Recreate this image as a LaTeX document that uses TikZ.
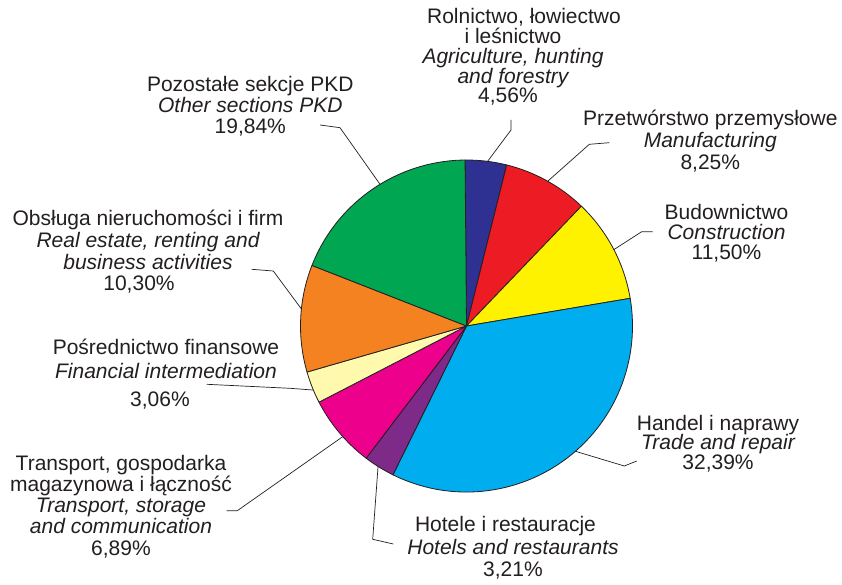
\documentclass[tikz,border=0pt]{standalone}
\usepackage{fontspec}
\setmainfont{Liberation Sans}
\definecolor{txt}{HTML}{231F20}
\definecolor{cgreen}{HTML}{00A651}
\definecolor{cblue}{HTML}{2E3192}
\definecolor{cred}{HTML}{ED1C24}
\definecolor{cyellow}{HTML}{FFF200}
\definecolor{ccyan}{HTML}{00AEEF}
\definecolor{cpurple}{HTML}{7D2A88}
\definecolor{cmagenta}{HTML}{EC008C}
\definecolor{clight}{HTML}{FFF9AE}
\definecolor{corange}{HTML}{F58220}
\newcommand\labelstack[2][20.5pt]{\vtop{\baselineskip=#1\lineskiplimit=-100pt\halign{\hfil##\hfil\cr#2\crcr}}}
\tikzset{
  slice/.style={draw=txt,line width=0.8pt,line join=round},
  leader/.style={draw=txt,line width=0.7pt},
  lab/.style={inner sep=0pt,anchor=base,text=txt,font=\fontsize{21pt}{20.5pt}\selectfont}
}
\begin{document}
\begin{tikzpicture}[x=1pt,y=1pt]
\useasboundingbox (0,0) rectangle (842,584);
\fill[white] (0,0) rectangle (842,584);
\coordinate (c) at (466.5,258);
\def\R{166pt}
% slices
\filldraw[slice,fill=cblue] (c) -- ++(76:\R) arc[start angle=76,end angle=90.5,radius=\R] -- cycle;
\filldraw[slice,fill=cred] (c) -- ++(46.2:\R) arc[start angle=46.2,end angle=76,radius=\R] -- cycle;
\filldraw[slice,fill=cyellow] (c) -- ++(9.6:\R) arc[start angle=9.6,end angle=46.2,radius=\R] -- cycle;
\filldraw[slice,fill=ccyan] (c) -- ++(-116.3:\R) arc[start angle=-116.3,end angle=9.6,radius=\R] -- cycle;
\filldraw[slice,fill=cpurple] (c) -- ++(-127.2:\R) arc[start angle=-127.2,end angle=-116.3,radius=\R] -- cycle;
\filldraw[slice,fill=cmagenta] (c) -- ++(-152.7:\R) arc[start angle=-152.7,end angle=-127.2,radius=\R] -- cycle;
\filldraw[slice,fill=clight] (c) -- ++(-163.9:\R) arc[start angle=-163.9,end angle=-152.7,radius=\R] -- cycle;
\filldraw[slice,fill=corange] (c) -- ++(158.6:\R) arc[start angle=158.6,end angle=196.1,radius=\R] -- cycle;
\filldraw[slice,fill=cgreen] (c) -- ++(90.5:\R) arc[start angle=90.5,end angle=158.6,radius=\R] -- cycle;

% labels
\node[lab] (agri) at (513,560) {\labelstack[19.7pt]{\kern22pt Rolnictwo, łowiectwo\cr i leśnictwo\cr \itshape Agriculture, hunting\cr \itshape and forestry\cr 4,56\%\kern10pt}};
\node[lab] (manuf) at (710.3,458.3) {\labelstack[22pt]{Przetwórstwo przemysłowe\cr \itshape Manufacturing\cr 8,25\%}};
\node[lab] (constr) at (726.5,364.7) {\labelstack[20.3pt]{Budownictwo\cr \itshape Construction\cr 11,50\%}};
\node[lab] (trade) at (718,154) {\labelstack[19.7pt]{Handel i naprawy\cr \itshape Trade and repair\cr 32,39\%}};
\node[lab] (hotels) at (513,52.3) {\labelstack[22.5pt]{Hotele i restauracje\kern15pt\cr \itshape Hotels and restaurants\cr 3,21\%}};
\node[lab] (transp) at (121,114) {\labelstack[21.25pt]{Transport, gospodarka\cr magazynowa i łączność\cr \itshape Transport, storage\cr \itshape and communication\cr 6,89\%}};
\node[lab] (fin) at (166,229.7) {\labelstack[24pt]{Pośrednictwo finansowe\cr \itshape Financial intermediation\cr\noalign{\vskip3.7pt} 3,06\%\kern12pt}};
\node[lab] (real) at (148,358.3) {\labelstack[21.7pt]{Obsługa nieruchomości i firm\cr \itshape Real estate, renting and\cr \itshape business activities\cr 10,30\%\kern18pt}};
\node[lab] (other) at (250.3,492.3) {\labelstack[20.8pt]{Pozostałe sekcje PKD\cr \itshape Other sections PKD\cr 19,84\%}};

% leader coordinates
\coordinate (a1) at (511,464); \coordinate (a2) at (511,454); \coordinate (ae) at ([shift={(82.7:\R)}]c);
\coordinate (m1) at (609.3,441.3); \coordinate (m2) at (589.3,439.7); \coordinate (me) at ([shift={(60.7:\R)}]c);
\coordinate (b1) at (652.7,352.3); \coordinate (b2) at (641.7,352.3); \coordinate (be) at ([shift={(27.4:\R)}]c);
\coordinate (t1) at (636.7,123); \coordinate (t2) at (624.3,118); \coordinate (te) at ([shift={(-49:\R)}]c);
\coordinate (h1) at (393.3,40); \coordinate (h2) at (372.7,44.7); \coordinate (he) at ([shift={(-122.2:\R)}]c);
\coordinate (s1) at (226.7,73.3); \coordinate (s2) at (237.3,73.3); \coordinate (se) at ([shift={(-138.2:\R)}]c);
\coordinate (f1) at (206.7,199.7); \coordinate (f2) at (290,195.7); \coordinate (fe) at ([shift={(-157.3:\R)}]c);
\coordinate (r1) at (251.7,314.7); \coordinate (r2) at (273.3,313); \coordinate (re) at ([shift={(174.1:\R)}]c);
\coordinate (o1) at (320,459); \coordinate (o2) at (340,456.3); \coordinate (oe) at ([shift={(121.4:\R)}]c);

\draw[leader] (a1) -- (a2) -- (ae);
\draw[leader] (m1) -- (m2) -- (me);
\draw[leader] (b1) -- (b2) -- (be);
\draw[leader] (t1) -- (t2) -- (te);
\draw[leader] (h1) -- (h2) -- (he);
\draw[leader] (s1) -- (s2) -- (se);
\draw[leader] (f1) -- (f2) -- (fe);
\draw[leader] (r1) -- (r2) -- (re);
\draw[leader] (o1) -- (o2) -- (oe);
\end{tikzpicture}
\end{document}
